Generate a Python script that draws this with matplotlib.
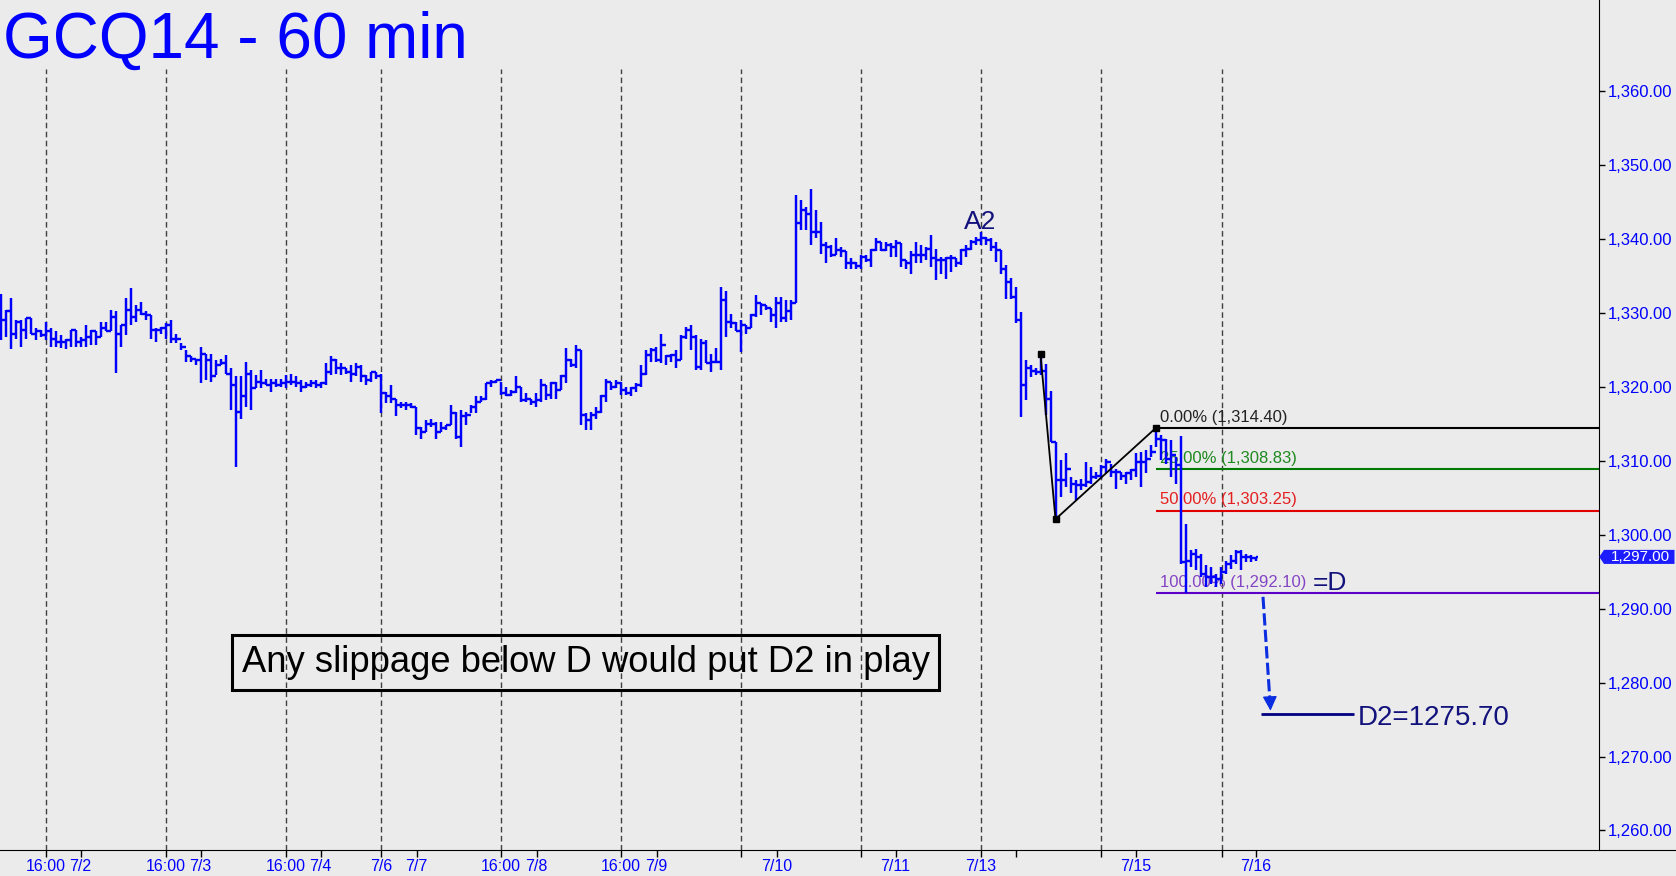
import numpy as np
import matplotlib
matplotlib.use('Agg')
import matplotlib.pyplot as plt
from matplotlib.patches import Polygon
from matplotlib.ticker import FuncFormatter

plt.rcParams['font.family'] = ['Liberation Sans', 'DejaVu Sans']

# hourly bars GCQ14 (high / low / close)
highs = [
    1332.6, 1330.4, 1332.0, 1329.0, 1329.0, 1329.3, 1329.3, 1327.9, 1327.7, 1328.8,
    1327.9, 1327.5, 1327.0, 1326.5, 1327.7, 1327.7, 1326.8, 1328.4, 1327.7, 1327.5,
    1328.8, 1328.8, 1330.4, 1330.2, 1328.4, 1332.0, 1333.3, 1331.1, 1331.5, 1330.2,
    1329.7, 1327.9, 1328.1, 1328.6, 1329.0, 1327.2, 1325.9, 1325.0, 1324.1, 1323.8,
    1325.4, 1324.5, 1324.5, 1323.6, 1323.8, 1324.3, 1322.5, 1321.4, 1321.4, 1323.4,
    1322.3, 1321.6, 1322.3, 1321.1, 1321.1, 1321.0, 1321.1, 1321.6, 1321.7, 1321.4,
    1320.9, 1320.7, 1320.9, 1320.9, 1320.7, 1323.2, 1324.2, 1323.8, 1323.2, 1322.5,
    1322.9, 1323.2, 1322.9, 1321.6, 1322.0, 1322.0, 1321.8, 1319.3, 1320.2, 1318.4,
    1318.0, 1318.0, 1317.8, 1317.3, 1314.6, 1315.5, 1315.7, 1315.3, 1315.3, 1314.8,
    1317.5, 1316.6, 1316.9, 1316.6, 1317.5, 1318.7, 1318.7, 1320.5, 1320.9, 1320.9,
    1320.7, 1320.0, 1319.6, 1321.4, 1320.0, 1319.1, 1318.4, 1319.1, 1321.1, 1320.2,
    1320.7, 1320.7, 1321.6, 1325.2, 1323.8, 1325.6, 1325.0, 1316.4, 1316.6, 1317.3,
    1318.9, 1321.1, 1320.7, 1320.9, 1320.7, 1320.0, 1320.0, 1320.5, 1322.9, 1325.0,
    1325.2, 1325.4, 1327.2, 1324.3, 1324.5, 1325.0, 1327.0, 1328.1, 1328.4, 1327.0,
    1326.5, 1326.3, 1324.5, 1325.2, 1333.5, 1332.9, 1329.9, 1328.8, 1329.1, 1328.4,
    1329.9, 1332.4, 1331.3, 1331.1, 1330.6, 1332.2, 1332.2, 1331.7, 1331.7, 1345.9,
    1345.2, 1344.3, 1346.8, 1343.9, 1342.3, 1339.6, 1339.2, 1340.1, 1338.9, 1338.3,
    1337.4, 1336.9, 1337.8, 1337.8, 1338.7, 1340.1, 1339.6, 1339.6, 1339.4, 1339.8,
    1339.4, 1337.1, 1338.3, 1339.6, 1339.2, 1338.9, 1340.5, 1338.7, 1337.6, 1337.6,
    1337.8, 1337.4, 1338.7, 1339.2, 1339.8, 1340.3, 1341.0, 1340.3, 1340.1, 1339.6,
    1338.5, 1336.5, 1334.7, 1333.5, 1330.1, 1323.6, 1322.9, 1322.5, 1324.4, 1323.1,
    1319.5, 1312.5, 1310.1, 1311.0, 1307.8, 1307.4, 1307.6, 1309.8, 1309.2, 1308.5,
    1309.4, 1310.3, 1309.6, 1308.9, 1308.5, 1308.5, 1308.9, 1311.0, 1311.2, 1311.4,
    1312.1, 1314.4, 1313.5, 1313.0, 1312.8, 1310.5, 1313.3, 1301.4, 1297.9, 1298.1,
    1297.4, 1295.9, 1295.6, 1294.7, 1295.6, 1296.5, 1297.2, 1297.9, 1297.9, 1297.4,
    1297.2, 1297.0,
]
lows = [
    1326.3, 1326.8, 1325.1, 1326.5, 1325.4, 1326.5, 1327.2, 1326.3, 1326.8, 1326.3,
    1325.4, 1325.4, 1325.2, 1325.1, 1325.4, 1325.4, 1325.4, 1325.4, 1325.6, 1325.6,
    1326.8, 1327.5, 1327.5, 1321.9, 1325.4, 1327.0, 1328.4, 1328.8, 1329.7, 1329.0,
    1326.5, 1326.1, 1327.2, 1326.5, 1325.9, 1325.9, 1325.0, 1323.4, 1323.4, 1322.9,
    1320.5, 1320.9, 1320.7, 1321.6, 1322.9, 1321.8, 1316.9, 1309.2, 1315.7, 1317.3,
    1316.9, 1319.8, 1319.8, 1320.2, 1319.3, 1320.0, 1320.0, 1319.8, 1320.2, 1320.0,
    1319.3, 1319.8, 1320.0, 1319.8, 1319.8, 1320.2, 1321.6, 1321.8, 1321.6, 1321.8,
    1320.7, 1321.4, 1320.7, 1320.2, 1320.7, 1321.1, 1316.4, 1317.8, 1317.8, 1316.0,
    1317.1, 1316.9, 1317.1, 1313.5, 1313.0, 1313.9, 1314.6, 1313.0, 1313.9, 1314.1,
    1314.8, 1313.0, 1311.9, 1314.8, 1316.4, 1316.4, 1318.0, 1318.2, 1320.0, 1320.5,
    1318.9, 1318.7, 1318.7, 1319.1, 1318.0, 1318.0, 1317.5, 1317.3, 1318.0, 1318.2,
    1318.4, 1318.4, 1319.6, 1320.5, 1322.7, 1322.5, 1314.8, 1314.1, 1314.1, 1315.7,
    1316.4, 1318.0, 1319.6, 1319.8, 1318.9, 1318.9, 1318.7, 1319.3, 1320.0, 1321.6,
    1323.4, 1323.4, 1323.2, 1322.9, 1323.4, 1322.5, 1323.6, 1326.5, 1325.0, 1322.3,
    1322.3, 1323.2, 1322.0, 1323.2, 1322.3, 1326.8, 1327.9, 1327.5, 1324.7, 1327.2,
    1327.9, 1329.5, 1329.7, 1330.4, 1328.8, 1327.9, 1328.8, 1328.8, 1329.0, 1331.3,
    1341.2, 1341.2, 1339.2, 1340.1, 1338.0, 1336.7, 1337.6, 1337.8, 1337.6, 1336.0,
    1336.0, 1336.0, 1336.0, 1336.9, 1336.2, 1338.3, 1338.3, 1338.3, 1337.6, 1337.6,
    1336.2, 1336.0, 1335.3, 1336.7, 1336.7, 1337.1, 1336.2, 1334.4, 1335.3, 1334.6,
    1335.5, 1336.2, 1336.5, 1337.6, 1338.5, 1339.2, 1339.2, 1339.2, 1338.3, 1336.9,
    1335.3, 1331.9, 1331.9, 1328.6, 1315.9, 1318.2, 1321.3, 1321.6, 1321.6, 1316.2,
    1312.5, 1302.1, 1305.1, 1306.5, 1305.6, 1304.7, 1306.0, 1306.5, 1306.9, 1307.6,
    1307.6, 1308.3, 1307.8, 1306.2, 1307.4, 1306.9, 1307.4, 1307.8, 1306.5, 1308.3,
    1310.5, 1311.9, 1310.1, 1309.6, 1307.8, 1306.9, 1296.1, 1292.1, 1295.6, 1295.2,
    1294.3, 1292.9, 1293.4, 1292.9, 1293.4, 1294.7, 1295.4, 1296.1, 1295.2, 1296.3,
    1296.3, 1296.5,
]
closes = [
    1329.0, 1330.2, 1327.2, 1328.8, 1327.7, 1329.3, 1327.2, 1327.5, 1327.0, 1327.5,
    1326.5, 1326.1, 1326.1, 1326.3, 1327.7, 1326.1, 1326.3, 1326.7, 1327.5, 1326.8,
    1327.9, 1327.5, 1329.5, 1327.2, 1328.4, 1330.4, 1329.5, 1330.4, 1329.9, 1329.7,
    1327.7, 1327.7, 1327.9, 1328.4, 1326.5, 1326.5, 1325.4, 1324.1, 1323.8, 1323.6,
    1324.5, 1323.6, 1321.4, 1322.9, 1323.2, 1321.8, 1320.2, 1316.6, 1318.7, 1321.8,
    1319.8, 1320.7, 1320.5, 1320.2, 1320.5, 1320.2, 1320.5, 1320.7, 1320.7, 1320.5,
    1320.0, 1320.2, 1320.5, 1320.2, 1320.5, 1322.0, 1323.6, 1322.5, 1322.5, 1322.0,
    1321.8, 1322.7, 1321.4, 1320.9, 1322.0, 1321.4, 1319.1, 1318.7, 1318.4, 1317.5,
    1317.5, 1317.5, 1317.3, 1314.4, 1313.9, 1315.0, 1315.0, 1313.9, 1314.4, 1314.8,
    1316.4, 1313.2, 1316.0, 1316.2, 1317.3, 1318.0, 1318.4, 1320.5, 1320.7, 1320.9,
    1319.1, 1318.9, 1319.3, 1320.0, 1318.2, 1318.4, 1318.0, 1318.2, 1320.2, 1318.9,
    1320.5, 1319.6, 1321.4, 1323.6, 1322.9, 1325.0, 1316.2, 1315.5, 1316.2, 1316.6,
    1318.7, 1320.7, 1320.0, 1320.5, 1319.6, 1319.1, 1319.8, 1320.2, 1321.8, 1324.3,
    1325.0, 1323.6, 1325.6, 1324.1, 1324.3, 1323.6, 1326.8, 1327.7, 1326.8, 1322.7,
    1325.9, 1323.2, 1323.4, 1323.4, 1331.7, 1328.8, 1328.6, 1327.5, 1328.4, 1327.9,
    1329.7, 1331.3, 1331.1, 1330.6, 1329.7, 1331.3, 1329.3, 1330.2, 1331.3, 1342.1,
    1343.9, 1343.4, 1341.0, 1341.0, 1339.2, 1338.9, 1337.8, 1338.5, 1338.3, 1336.7,
    1336.7, 1336.4, 1337.6, 1337.1, 1338.5, 1339.6, 1338.5, 1339.2, 1338.9, 1339.4,
    1337.1, 1336.7, 1337.8, 1337.8, 1337.8, 1338.7, 1337.4, 1337.1, 1337.1, 1337.4,
    1337.4, 1336.7, 1338.5, 1338.7, 1339.6, 1339.8, 1340.1, 1339.8, 1338.9, 1338.5,
    1336.0, 1334.2, 1332.2, 1329.0, 1320.2, 1322.5, 1322.2, 1322.0, 1322.2, 1318.4,
    1312.5, 1307.4, 1307.4, 1308.9, 1306.9, 1306.7, 1306.7, 1307.1, 1307.8, 1308.0,
    1309.2, 1309.8, 1308.5, 1308.5, 1308.0, 1308.3, 1308.7, 1309.8, 1309.8, 1310.3,
    1311.2, 1313.0, 1312.8, 1310.3, 1310.8, 1309.4, 1296.3, 1296.5, 1297.4, 1297.0,
    1294.7, 1294.3, 1294.3, 1294.0, 1295.0, 1296.1, 1296.5, 1297.7, 1297.0, 1297.0,
    1296.8, 1297.0,
]

# time axis (in bar units): 16:00 / session-open marks and midnight date ticks
session_pos = [9.1, 33.1, 57.1, 76.1, 100.1, 124.1, 148.1, 172.1, 196.1, 220.1, 244.2]
session_labels = ['16:00', '16:00', '16:00', '7/6', '16:00', '16:00', '', '', '7/13', '', '']
date_pos = [16, 40, 64, 83.2, 107.2, 131.2, 155.2, 179, 203, 227.1, 251]
date_labels = ['7/2', '7/3', '7/4', '7/7', '7/8', '7/9', '7/10', '7/11', '', '7/15', '7/16']
price_ticks = list(range(1260, 1361, 10))

# ABC swing and the D projection levels
swing_bars = [208, 211, 231]
fib_names = ['0.00%', '25.00%', '50.00%', '100.00%']
fib_levels = [1314.40, 1308.83, 1303.25, 1292.10]
fib_line_colors = ['black', '#007a00', '#e00000', '#5a00c8']
fib_text_colors = ['#222222', '#1f8a1f', '#e42020', '#8444c4']
target_d2 = 1275.70

BG = '#ebebeb'
BLUE = '#0000ff'
NAVY = '#12127c'

fig = plt.figure(figsize=(16.76, 8.76), dpi=100, facecolor=BG)
ax = fig.add_axes([0, 26.5 / 876, 1, 849.5 / 876])
ax.set_facecolor(BG)
ax.set_xlim(-0.1, 335.1)
ax.set_ylim(1257.43, 1372.31)
right_edge = 319.7

for p in session_pos:
    ax.axvline(p, ymax=0.919, color='#404040', lw=1, ls=(0, (4, 2.5)), zorder=1)

x = np.arange(len(closes))
opens = np.r_[closes[0], closes[:-1]]
ax.vlines(x, lows, highs, color=BLUE, lw=1.75, zorder=3)
ax.hlines(opens, x - 0.55, x, color=BLUE, lw=1.75, zorder=3)
ax.hlines(closes, x, x + 0.55, color=BLUE, lw=1.75, zorder=3)

# swing lines
sy = [highs[swing_bars[0]], lows[swing_bars[1]], highs[swing_bars[2]]]
ax.plot(swing_bars, sy, color='black', lw=1.3, marker='s', ms=5, zorder=5)

for name, lvl, lc, tc in zip(fib_names, fib_levels, fib_line_colors, fib_text_colors):
    ax.hlines(lvl, swing_bars[2], right_edge, color=lc, lw=1.5, zorder=2)
    ax.annotate(f'{name} ({lvl:,.2f})', xy=(swing_bars[2] + 1.0, lvl), xytext=(0, 8),
                textcoords='offset points', color=tc, fontsize=12, va='center', ha='left', zorder=2)

ax.text(196, 1341.4, 'A2', fontsize=19, color=NAVY, ha='center', va='baseline')
ax.text(262.4, 1292.5, '=D', fontsize=19, color=NAVY, ha='left', va='baseline')

# projection to D2
ax.plot([252.5, 253.86], [1291.6, 1277.8], color='#0a2ee0', lw=2.2, ls=(0, (4, 1.4)))
ax.annotate('', xy=(254.0, 1276.2), xytext=(253.86, 1278.2),
            arrowprops=dict(arrowstyle='-|>', color='#0a2ee0', lw=1, mutation_scale=22,
                            shrinkA=0, shrinkB=0))
ax.hlines(target_d2, 252, 270.6, color='#000080', lw=2)
ax.text(271.4, 1274.2, f'D2={target_d2:.2f}', fontsize=20, color=NAVY, ha='left', va='baseline')

ax.text(117, 1282.7, 'Any slippage below D would put D2 in play', fontsize=26.2,
        ha='center', va='center', color='black',
        bbox=dict(boxstyle='square,pad=0.27', fc='none', ec='black', lw=2.2))

# last price flag
last_price = closes[-1]
flag = Polygon([(right_edge + 0.05, last_price), (right_edge + 1.0, last_price + 0.95),
                (334.8, last_price + 0.95), (334.8, last_price - 0.95),
                (right_edge + 1.0, last_price - 0.95)],
               closed=True, fc='#1c1cff', ec='none', zorder=6)
ax.add_patch(flag)
ax.text(327.9, last_price, f'{last_price:,.2f}', color='white', fontsize=11,
        ha='center', va='center', zorder=7)

for s in ['top', 'left']:
    ax.spines[s].set_visible(False)
ax.spines['right'].set_position(('axes', 1599 / 1676))
ax.yaxis.tick_right()
ax.set_yticks(price_ticks)
ax.yaxis.set_major_formatter(FuncFormatter(lambda v, p: f'{v:,.2f}'))
ax.tick_params(axis='y', direction='out', length=4, width=1, pad=2, labelsize=12, labelcolor=BLUE)
ax.set_xticks(session_pos + date_pos, session_labels + date_labels)
ax.tick_params(axis='x', direction='out', length=5, width=1, pad=2, labelsize=11.5, labelcolor=BLUE)

fig.text(3 / 1676, 1 - 58 / 876, 'GCQ14 - 60 min', fontsize=46, color=BLUE, ha='left', va='baseline')

fig.savefig('out.png', dpi=100, facecolor=BG)
